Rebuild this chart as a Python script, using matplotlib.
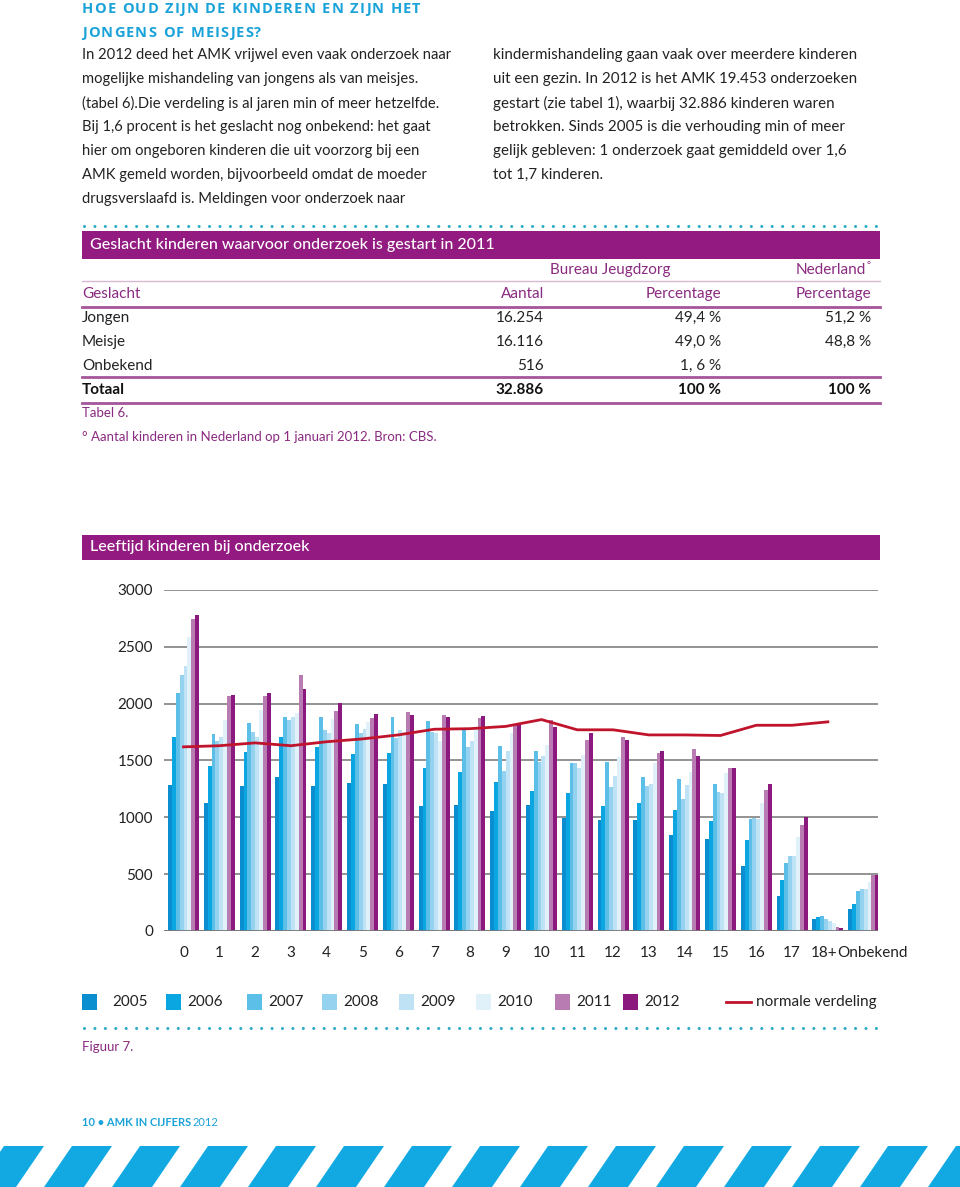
import numpy as np
import matplotlib
matplotlib.use('Agg')
import matplotlib.pyplot as plt
from matplotlib.lines import Line2D
from matplotlib.patches import Rectangle, Polygon
from matplotlib.transforms import ScaledTranslation

plt.rcParams['font.family'] = ['Lato', 'DejaVu Sans']

# data
ages = ['0', '1', '2', '3', '4', '5', '6', '7', '8', '9', '10', '11', '12',
        '13', '14', '15', '16', '17', '18+', 'Onbekend']
years = ['2005', '2006', '2007', '2008', '2009', '2010', '2011', '2012']

v2005 = [1284, 1128, 1275, 1351, 1275, 1298, 1290, 1099, 1111, 1058, 1108, 997, 976, 976, 844, 806, 572, 305, 103, 196]
v2006 = [1709, 1451, 1577, 1709, 1615, 1556, 1565, 1436, 1395, 1313, 1234, 1210, 1099, 1123, 1064, 970, 800, 448, 120, 234]
v2007 = [2096, 1732, 1832, 1885, 1885, 1817, 1885, 1844, 1767, 1627, 1586, 1477, 1486, 1351, 1334, 1296, 982, 595, 132, 349]
v2008 = [2254, 1674, 1750, 1855, 1767, 1738, 1694, 1753, 1621, 1410, 1489, 1477, 1269, 1278, 1161, 1219, 991, 660, 106, 366]
v2009 = [2330, 1709, 1709, 1885, 1738, 1779, 1767, 1744, 1674, 1586, 1542, 1436, 1366, 1296, 1284, 1211, 982, 660, 91, 366]
v2010 = [2588, 1855, 1943, 1914, 1861, 1838, 1753, 1674, 1782, 1738, 1636, 1548, 1527, 1474, 1401, 1386, 1128, 829, 73, 434]
v2011 = [2749, 2066, 2066, 2251, 1937, 1870, 1926, 1899, 1870, 1811, 1855, 1679, 1709, 1562, 1600, 1436, 1240, 932, 32, 492]
v2012 = [2779, 2078, 2093, 2125, 2002, 1908, 1902, 1885, 1890, 1826, 1791, 1738, 1679, 1586, 1542, 1436, 1296, 999, 23, 489]

# normale verdeling (ages 0 .. 18+)
normaal = [1620, 1630, 1655, 1630, 1665, 1690, 1725, 1775, 1780, 1800, 1860,
           1770, 1770, 1725, 1725, 1720, 1810, 1810, 1840]

# table 6
tab_rows = ['Jongen', 'Meisje', 'Onbekend']
tab_aantal = ['16.254', '16.116', '516']
tab_pct = ['49,4 %', '49,0 %', '1, 6 %']
tab_nl = ['51,2 %', '48,8 %', '']
tab_totaal = ['32.886', '100 %', '100 %']

colors = ['#0b8ed0', '#0aa6e1', '#5cbfe8', '#94d2ef', '#bfe3f5', '#e0f1fa', '#b87cb3', '#8c1a7e']
purple = '#921a80'
ptext = '#8a2a80'
cyan = '#1aa3d9'
teal = '#2aaac4'
red = '#c0142c'

W, H = 960, 1187
fig = plt.figure(figsize=(9.6, 11.87), dpi=100)
renderer = fig.canvas.get_renderer()


def fx(x):
    return x / W


def fy(y):
    return 1 - y / H


def hline(x0, x1, y, color, lw):
    fig.add_artist(Line2D([fx(x0), fx(x1)], [fy(y), fy(y)], color=color, lw=lw,
                          transform=fig.transFigure))


def dots(y):
    fig.add_artist(Line2D([fx(84), fx(880)], [fy(y), fy(y)], color=teal, lw=2.2,
                          linestyle=(0, (0.01, 3.4)), dash_capstyle='round',
                          transform=fig.transFigure))


def bar_header(y0, y1, text):
    fig.add_artist(Rectangle((fx(82), fy(y1)), fx(880) - fx(82), fy(y0) - fy(y1),
                             color=purple, transform=fig.transFigure, lw=0))
    fig.text(fx(90), fy((y0 + y1) / 2), text, color='white', fontsize=11.5,
             va='center', ha='left', fontweight='medium')


def spaced(x, y, s, track, **kw):
    # letter-spaced text, one glyph at a time
    for ch in s:
        t = fig.text(fx(x), fy(y), ch, va='center', **kw)
        if ch == ' ':
            w = 4.5
        else:
            w = t.get_window_extent(renderer).width
        x += w + track


# heading + body text
head_kw = dict(color=cyan, fontsize=10.5, fontweight='bold', family='Open Sans')
spaced(82, 9, 'HOE OUD ZIJN DE KINDEREN EN ZIJN HET', 1.1, **head_kw)
spaced(82, 33, 'JONGENS OF MEISJES?', 1.1, **head_kw)

left_col = [
    'In 2012 deed het AMK vrijwel even vaak onderzoek naar',
    'mogelijke mishandeling van jongens als van meisjes.',
    '(tabel 6).Die verdeling is al jaren min of meer hetzelfde.',
    'Bij 1,6 procent is het geslacht nog onbekend: het gaat',
    'hier om ongeboren kinderen die uit voorzorg bij een',
    'AMK gemeld worden, bijvoorbeeld omdat de moeder',
    'drugsverslaafd is. Meldingen voor onderzoek naar',
]
right_col = [
    'kindermishandeling gaan vaak over meerdere kinderen',
    'uit een gezin. In 2012 is het AMK 19.453 onderzoeken',
    'gestart (zie tabel 1), waarbij 32.886 kinderen waren',
    'betrokken. Sinds 2005 is die verhouding min of meer',
    'gelijk gebleven: 1 onderzoek gaat gemiddeld over 1,6',
    'tot 1,7 kinderen.',
]
for i, s in enumerate(left_col):
    fig.text(fx(82), fy(55 + 24 * i), s, fontsize=10.6, color='#222222', va='center')
for i, s in enumerate(right_col):
    fig.text(fx(493), fy(55 + 24 * i), s, fontsize=10.9, color='#222222', va='center')

# table 6
dots(226)
bar_header(231, 259, 'Geslacht kinderen waarvoor onderzoek is gestart in 2011')
fs_t = 11
fig.text(fx(671), fy(270), 'Bureau Jeugdzorg', color=ptext, fontsize=fs_t, ha='right', va='center')
fig.text(fx(866), fy(270), 'Nederland', color=ptext, fontsize=fs_t, ha='right', va='center')
fig.text(fx(867), fy(266), '°', color=ptext, fontsize=7, ha='left', va='center')
hline(82, 880, 281, '#d7b8d3', 1.0)
fig.text(fx(82), fy(294), 'Geslacht', color=ptext, fontsize=fs_t, va='center')
fig.text(fx(544), fy(294), 'Aantal', color=ptext, fontsize=fs_t, ha='right', va='center')
fig.text(fx(721), fy(294), 'Percentage', color=ptext, fontsize=fs_t, ha='right', va='center')
fig.text(fx(871), fy(294), 'Percentage', color=ptext, fontsize=fs_t, ha='right', va='center')
hline(82, 880, 306.5, '#a5559b', 2.0)
for i, r in enumerate(tab_rows):
    y = 318 + 24 * i
    fig.text(fx(82), fy(y), r, color='#222222', fontsize=fs_t, va='center')
    fig.text(fx(544), fy(y), tab_aantal[i], color='#222222', fontsize=fs_t, ha='right', va='center')
    fig.text(fx(721), fy(y), tab_pct[i], color='#222222', fontsize=fs_t, ha='right', va='center')
    fig.text(fx(871), fy(y), tab_nl[i], color='#222222', fontsize=fs_t, ha='right', va='center')
hline(82, 880, 377.5, '#a5559b', 2.0)
fig.text(fx(82), fy(390), 'Totaal', color='#111111', fontsize=fs_t, va='center', fontweight='bold')
for xr, s in zip([544, 721, 871], tab_totaal):
    fig.text(fx(xr), fy(390), s, color='#111111', fontsize=fs_t, ha='right', va='center',
             fontweight='bold')
hline(82, 880, 402.5, '#a5559b', 2.0)
fig.text(fx(82), fy(413), 'Tabel 6.', color=ptext, fontsize=9.5, va='center')
fig.text(fx(82), fy(437), '° Aantal kinderen in Nederland op 1 januari 2012. Bron: CBS.',
         color=ptext, fontsize=9.5, va='center')

# chart
bar_header(535, 560, 'Leeftijd kinderen bij onderzoek')
ax = fig.add_axes([fx(164), fy(931), fx(878) - fx(164), fy(590) - fy(931)])
series = [v2005, v2006, v2007, v2008, v2009, v2010, v2011, v2012]
x = np.arange(len(ages))
bw = 0.108
for j, vals in enumerate(series):
    ax.bar(x + (j - 3.5) * bw, vals, width=bw, color=colors[j], lw=0, zorder=2)
ax.plot(np.arange(len(normaal)), normaal, color=red, lw=2, zorder=3)
ax.set_ylim(0, 3000)
ax.set_xlim(-0.545, 19.40)
ax.set_yticks(np.arange(0, 3001, 500))
ax.grid(axis='y', color='#8a8a8a', lw=1.3, zorder=0)
for s in ax.spines.values():
    s.set_visible(False)
ax.tick_params(axis='y', length=0, pad=8, labelsize=11, labelcolor='#222222')
ax.tick_params(axis='x', length=0, pad=10.5, labelsize=11, labelcolor='#222222')
ax.set_xticks(x)
ax.set_xticklabels(ages)
ax.axhline(0, color='#777777', lw=2, zorder=4)
lab = ax.get_xticklabels()[-1]
lab.set_ha('left')
lab.set_transform(lab.get_transform() + ScaledTranslation(-26 / 100, 0, fig.dpi_scale_trans))
lab18 = ax.get_xticklabels()[-2]
lab18.set_transform(lab18.get_transform() + ScaledTranslation(-4 / 100, 0, fig.dpi_scale_trans))

# legend
sq_x = [82, 166, 247, 322, 399, 476, 555, 623]
for j, yr in enumerate(years):
    fig.add_artist(Rectangle((fx(sq_x[j]), fy(1010)), fx(15), fy(994) - fy(1010),
                             color=colors[j], lw=0, transform=fig.transFigure))
    fig.text(fx(sq_x[j] + (30 if j == 0 else 21)), fy(1002), yr, fontsize=11,
             color='#222222', va='center')
fig.add_artist(Line2D([fx(726), fx(751)], [fy(1002), fy(1002)], color=red, lw=2,
                      transform=fig.transFigure))
fig.text(fx(756), fy(1002), 'normale verdeling', fontsize=11, color='#222222', va='center')

dots(1028)
fig.text(fx(82), fy(1047), 'Figuur 7.', color=ptext, fontsize=9.5, va='center')

# footer
fig.text(fx(82), fy(1122), '10 • AMK IN CIJFERS', color=cyan, fontsize=8,
         fontweight='bold', va='center')
fig.text(fx(193), fy(1122), '2012', color=cyan, fontsize=8, va='center')

for k in range(16):
    x0 = 4 + 68 * k
    pts = [(x0, 1146), (x0 + 40, 1146), (x0 + 10, 1190), (x0 - 30, 1190)]
    fig.add_artist(Polygon([(fx(a), fy(b)) for a, b in pts], closed=True,
                           color='#12a9e2', lw=0, transform=fig.transFigure))

fig.savefig('out.png', dpi=100)
